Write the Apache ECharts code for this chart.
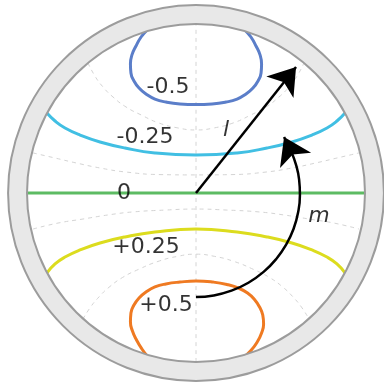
<!DOCTYPE html>
<html>
<head>
<meta charset="utf-8">
<script src="https://cdn.jsdelivr.net/npm/echarts@6/dist/echarts.min.js"></script>
<style>html,body{margin:0;padding:0;background:#fff;}#c{width:384px;height:387px;}</style>
</head>
<body>
<div id="c"></div>
<script>
// ---- data (unit: inner circle radius = 1) ----
const levelNames = ['-0.5', '-0.25', '0', '+0.25', '+0.5'];
const levelColors = ['#5b7ec9', '#41bfe3', '#5dbb63', '#dcdc1e', '#ef7a22'];
const blueX = [-0.290, -0.325, -0.355, -0.379, -0.388, -0.385, -0.367, -0.337, -0.296, -0.243, -0.178, -0.095, 0,
               0.095, 0.178, 0.243, 0.296, 0.337, 0.367, 0.385, 0.388, 0.379, 0.355, 0.325, 0.290];
const blueY = [0.964, 0.923, 0.870, 0.817, 0.763, 0.710, 0.663, 0.621, 0.586, 0.556, 0.538, 0.527, 0.524,
               0.527, 0.538, 0.556, 0.586, 0.621, 0.663, 0.710, 0.763, 0.817, 0.870, 0.923, 0.964];
const cyanX = [-0.882, -0.834, -0.775, -0.686, -0.568, -0.420, -0.243, 0, 0.243, 0.420, 0.568, 0.686, 0.775, 0.834, 0.882];
const cyanY = [0.473, 0.426, 0.385, 0.343, 0.302, 0.266, 0.237, 0.225, 0.237, 0.266, 0.302, 0.343, 0.385, 0.426, 0.473];
const greenX = [-1, 1];
const greenY = [0, 0];
const yellowX = [-0.882, -0.834, -0.775, -0.686, -0.568, -0.420, -0.243, 0, 0.243, 0.420, 0.568, 0.686, 0.775, 0.834, 0.882];
const yellowY = [-0.473, -0.420, -0.379, -0.337, -0.296, -0.260, -0.231, -0.213, -0.231, -0.260, -0.296, -0.337, -0.379, -0.420, -0.473];
const orangeX = [-0.284, -0.320, -0.352, -0.376, -0.388, -0.385, -0.367, -0.337, -0.296, -0.243, -0.178, -0.095, 0,
                 0.100, 0.183, 0.250, 0.305, 0.346, 0.376, 0.395, 0.400, 0.388, 0.362, 0.325, 0.272];
const orangeY = [-0.970, -0.923, -0.870, -0.817, -0.763, -0.710, -0.663, -0.621, -0.586, -0.556, -0.538, -0.527, -0.521,
                 -0.527, -0.541, -0.562, -0.592, -0.630, -0.675, -0.722, -0.775, -0.828, -0.882, -0.932, -0.982];

// dashed background grid curves
const gridAX = [-0.639, -0.598, -0.550, -0.491, -0.414, -0.325, -0.219, -0.107, 0, 0.107, 0.219, 0.325, 0.414, 0.491, 0.550, 0.598, 0.639];
const gridAY = [0.769, 0.692, 0.627, 0.568, 0.509, 0.462, 0.414, 0.385, 0.373, 0.385, 0.414, 0.462, 0.509, 0.568, 0.627, 0.692, 0.769];
const gridBX = [-0.964, -0.834, -0.710, -0.568, -0.414, -0.213, 0, 0.213, 0.414, 0.568, 0.710, 0.834, 0.964];
const gridBY = [0.237, 0.207, 0.178, 0.148, 0.124, 0.109, 0.107, 0.109, 0.124, 0.148, 0.178, 0.207, 0.237];
const gridCX = [-0.964, -0.817, -0.669, -0.521, -0.373, -0.183, 0, 0.183, 0.373, 0.521, 0.669, 0.817, 0.964];
const gridCY = [-0.213, -0.178, -0.154, -0.130, -0.112, -0.101, -0.095, -0.101, -0.112, -0.130, -0.154, -0.178, -0.213];
const gridDX = [-0.669, -0.624, -0.574, -0.515, -0.435, -0.340, -0.225, -0.110, 0, 0.110, 0.225, 0.340, 0.435, 0.515, 0.574, 0.624, 0.669];
const gridDY = [-0.746, -0.675, -0.615, -0.558, -0.500, -0.452, -0.405, -0.375, -0.362, -0.375, -0.405, -0.452, -0.500, -0.558, -0.615, -0.675, -0.746];
const gridVX = [0, 0];
const gridVY = [-1, 1];

// labels
const labelText = ['-0.5', '-0.25', '0', '+0.25', '+0.5'];
const labelX = [-0.166, -0.302, -0.426, -0.296, -0.178];
const labelY = [0.627, 0.331, 0.0, -0.320, -0.663];
const symText = ['l', 'm'];
const symX = [0.178, 0.728];
const symY = [0.373, -0.136];

// arrows
const lArrowFrom = [0, 0];
const lArrowTip = [0.592, 0.746];
const mArcX = [0, 0.105, 0.21, 0.31, 0.40, 0.476, 0.535, 0.577, 0.604, 0.615, 0.610, 0.592, 0.566];
const mArcY = [-0.615, -0.606, -0.578, -0.531, -0.467, -0.389, -0.303, -0.213, -0.116, -0.01, 0.08, 0.166, 0.24];
const mArrowTip = [0.521, 0.331];

const ringOuterRatio = 1.112;

function zip(xs, ys) { return xs.map((x, i) => [x, ys[i]]); }

const font = 'DejaVu Sans';
const series = [];
[[gridAX, gridAY], [gridBX, gridBY], [gridCX, gridCY], [gridDX, gridDY], [gridVX, gridVY]].forEach(g => {
  series.push({
    type: 'line', data: zip(g[0], g[1]), smooth: true, symbol: 'none', silent: true,
    lineStyle: { color: '#d4d4d4', width: 1, type: [4, 4] }, z: 1
  });
});
[[blueX, blueY], [cyanX, cyanY], [greenX, greenY], [yellowX, yellowY], [orangeX, orangeY]].forEach((g, i) => {
  series.push({
    type: 'line', name: levelNames[i], data: zip(g[0], g[1]), smooth: true, symbol: 'none', silent: true,
    lineStyle: { color: levelColors[i], width: 3 }, z: 2
  });
});
series.push({
  type: 'line', data: zip(mArcX, mArcY), smooth: true, symbol: 'none', silent: true,
  lineStyle: { color: '#000', width: 2.5 }, z: 3
});
series.push({
  type: 'lines', coordinateSystem: 'cartesian2d', silent: true, z: 4,
  symbol: ['none', 'arrow'], symbolSize: [21, 26],
  lineStyle: { color: '#000', width: 2.5, opacity: 1, curveness: 0 },
  data: [
    { coords: [lArrowFrom, lArrowTip] },
    { coords: [[mArcX[mArcX.length - 1], mArcY[mArcY.length - 1]], mArrowTip] }
  ]
});
series.push({
  type: 'scatter', symbolSize: 0, silent: true, z: 5,
  data: labelText.map((t, i) => ({ value: [labelX[i], labelY[i]], name: t })),
  label: { show: true, position: 'inside', formatter: p => p.name, color: '#000', fontFamily: font, fontSize: 22 }
});
series.push({
  type: 'scatter', symbolSize: 0, silent: true, z: 5,
  data: symText.map((t, i) => ({ value: [symX[i], symY[i]], name: t })),
  label: { show: true, position: 'inside', formatter: p => p.name, color: '#000', fontFamily: font, fontSize: 22, fontStyle: 'italic' }
});

const chart = echarts.init(document.getElementById('c'), null, { renderer: 'canvas' });
chart.setOption({
  animation: false,
  backgroundColor: '#fff',
  grid: { left: 27, top: 24, width: 338, height: 338 },
  xAxis: { type: 'value', min: -1, max: 1, show: false },
  yAxis: { type: 'value', min: -1, max: 1, show: false },
  series: series
});
const c0 = chart.convertToPixel({ gridIndex: 0 }, [0, 0]);
const c1 = chart.convertToPixel({ gridIndex: 0 }, [1, 0]);
const r = c1[0] - c0[0];
chart.setOption({
  graphic: [{
    type: 'ring', z: 100, silent: true,
    shape: { cx: c0[0], cy: c0[1], r: r * ringOuterRatio, r0: r },
    style: { fill: '#e8e8e8', stroke: '#9c9c9c', lineWidth: 2 }
  }]
});
</script>
</body>
</html>
